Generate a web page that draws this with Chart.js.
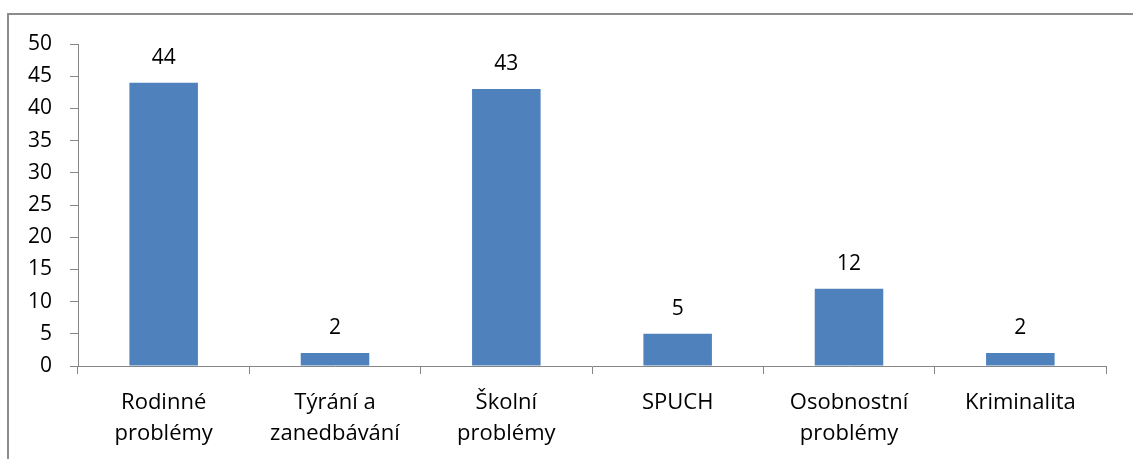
<!DOCTYPE html>
<html>
<head>
<meta charset="utf-8">
<script src="https://cdn.jsdelivr.net/npm/chart.js@4"></script>
<style>
  html, body { margin: 0; padding: 0; background: #fff; overflow: hidden; }
  #frame { position: absolute; left: 7px; top: 13px; width: 1200px; height: 500px; border: 2px solid #8c8c8c; box-sizing: border-box; }
  #wrap { position: absolute; left: 0; top: 0; width: 1133px; height: 459px; }
</style>
</head>
<body>
<div id="frame"></div>
<div id="wrap"><canvas id="chart" width="1133" height="459"></canvas></div>
<script>
const categories = [["Rodinné", "problémy"], ["Týrání a", "zanedbávání"], ["Školní", "problémy"], "SPUCH", ["Osobnostní", "problémy"], "Kriminalita"];
const values = [44, 2, 43, 5, 12, 2];
const yTicks = [0, 5, 10, 15, 20, 25, 30, 35, 40, 45, 50];

const FONT = "'Open Sans', 'Noto Sans', sans-serif";

// value labels above bars
const valueLabels = {
  id: "valueLabels",
  afterDatasetsDraw(chart) {
    const ctx = chart.ctx;
    ctx.save();
    ctx.font = "21px " + FONT;
    ctx.fillStyle = "#000";
    ctx.textAlign = "center";
    ctx.textBaseline = "alphabetic";
    chart.getDatasetMeta(0).data.forEach((bar, i) => {
      ctx.fillText(values[i], bar.x, bar.y - 19);
    });
    ctx.restore();
  }
};

new Chart(document.getElementById("chart"), {
  type: "bar",
  data: {
    labels: categories,
    datasets: [{
      data: values,
      backgroundColor: "#4f81bd",
      barPercentage: 0.4,
      categoryPercentage: 1
    }]
  },
  options: {
    responsive: false,
    animation: false,
    layout: { padding: { left: 0, right: 27, top: 44, bottom: 0 } },
    plugins: { legend: { display: false }, tooltip: { enabled: false } },
    scales: {
      x: {
        grid: { drawOnChartArea: false, offset: true, tickLength: 8, color: "#868686" },
        border: { color: "#868686" },
        ticks: { color: "#000", font: { family: FONT, size: 22, lineHeight: 1.42 }, padding: 13, maxRotation: 0, autoSkip: false },
        afterFit(scale) { scale.height = 93; }
      },
      y: {
        min: 0,
        max: 50,
        afterBuildTicks(scale) { scale.ticks = yTicks.map(v => ({ value: v })); },
        grid: { drawOnChartArea: false, tickLength: 8, color: "#868686" },
        border: { color: "#868686" },
        ticks: { color: "#000", font: { family: FONT, size: 21 }, padding: 18 },
        afterFit(scale) { scale.width = 78; }
      }
    }
  },
  plugins: [valueLabels]
});
</script>
</body>
</html>
